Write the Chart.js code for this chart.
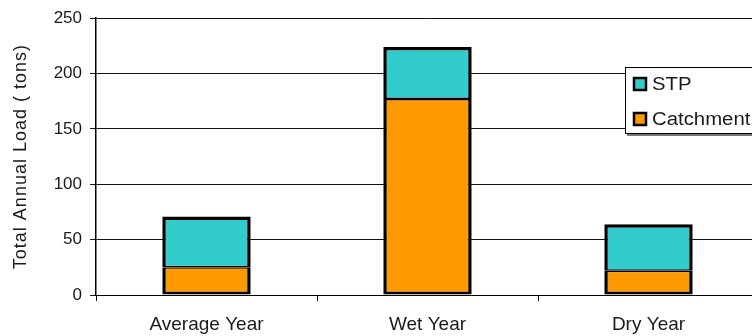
<!DOCTYPE html>
<html>
<head>
<meta charset="utf-8">
<script src="https://cdn.jsdelivr.net/npm/chart.js@4"></script>
<style>
  html, body { margin: 0; padding: 0; background: #fff; overflow: hidden; }
  #wrap { width: 770px; height: 336px; }
</style>
</head>
<body>
<div id="wrap"><canvas id="myChart" width="770" height="336"></canvas></div>
<script>
// chart data
const categories = ["Average Year", "Wet Year", "Dry Year"];
const catchment = [25, 177, 22];
const stp = [46, 47, 42];
const yTicks = [0, 50, 100, 150, 200, 250];
const yTitle = "Total Annual Load ( tons)";

const FONT = "'Liberation Sans', Arial, sans-serif";
const TEXT = "#1a1a1a";

// y title (spaced out) + legend box drawn by hand, like the spreadsheet one
const extras = {
	id: "extras",
	afterDraw(chart) {
		const c = chart.ctx;
		const area = chart.chartArea;
		c.save();
		// axis title
		c.translate(21, (area.top + area.bottom) / 2);
		c.rotate(-Math.PI / 2);
		c.font = "18px " + FONT;
		c.letterSpacing = "1px";
		c.fillStyle = TEXT;
		c.textAlign = "center";
		c.textBaseline = "middle";
		c.fillText(yTitle, 0, 0);
		c.restore();

		// legend
		const sets = chart.data.datasets.slice().reverse();
		c.save();
		c.fillStyle = "#777";
		c.fillRect(627, 134, 150, 2);
		c.fillStyle = "#fff";
		c.fillRect(625, 67, 150, 67);
		c.strokeStyle = "#000";
		c.lineWidth = 1;
		c.strokeRect(625.5, 67.5, 150, 66);
		c.font = "18px " + FONT;
		c.textBaseline = "middle";
		sets.forEach((ds, i) => {
			const y = 84 + i * 35;
			c.fillStyle = ds.backgroundColor;
			c.fillRect(634, y - 6, 12, 12);
			c.lineWidth = 2.5;
			c.strokeRect(634, y - 6, 12, 12);
			c.save();
			c.translate(652, y + 1);
			c.scale(1.13, 1);
			c.fillStyle = TEXT;
			c.fillText(ds.label, 0, 0);
			c.restore();
		});
		c.restore();
	},
};

const ctx = document.getElementById("myChart");

new Chart(ctx, {
	type: "bar",
	data: {
		labels: categories,
		datasets: [
			{
				label: "Catchment",
				data: catchment,
				backgroundColor: "#FF9900",
				borderColor: "#000",
				borderWidth: { top: 1.5, left: 3.5, right: 3.5, bottom: 3 },
				borderSkipped: false,
			},
			{
				label: "STP",
				data: stp,
				backgroundColor: "#33CCCC",
				borderColor: "#000",
				borderWidth: { top: 3.5, left: 3.5, right: 3.5, bottom: 1.5 },
				borderSkipped: false,
			},
		],
	},
	options: {
		responsive: false,
		animation: false,
		layout: { padding: { top: 18, right: 11, left: 0, bottom: 0 } },
		datasets: { bar: { categoryPercentage: 1, barPercentage: 0.4 } },
		plugins: { legend: { display: false }, tooltip: { enabled: false } },
		scales: {
			x: {
				stacked: true,
				grid: { drawOnChartArea: false, drawTicks: true, tickLength: 6, color: "#000", offset: true },
				border: { color: "#000", width: 1 },
				ticks: { color: TEXT, font: { family: FONT, size: 19 }, padding: 12 },
				afterFit(scale) { scale.height = 41; },
			},
			y: {
				stacked: true,
				min: 0,
				max: 250,
				afterBuildTicks(scale) { scale.ticks = yTicks.map((v) => ({ value: v })); },
				grid: { color: "#111", lineWidth: 1, tickLength: 6 },
				border: { color: "#000", width: 1.5 },
				ticks: { color: TEXT, font: { family: FONT, size: 17 }, padding: 8 },
				afterFit(scale) { scale.width = 96; },
			},
		},
	},
	plugins: [extras],
});
</script>
</body>
</html>
